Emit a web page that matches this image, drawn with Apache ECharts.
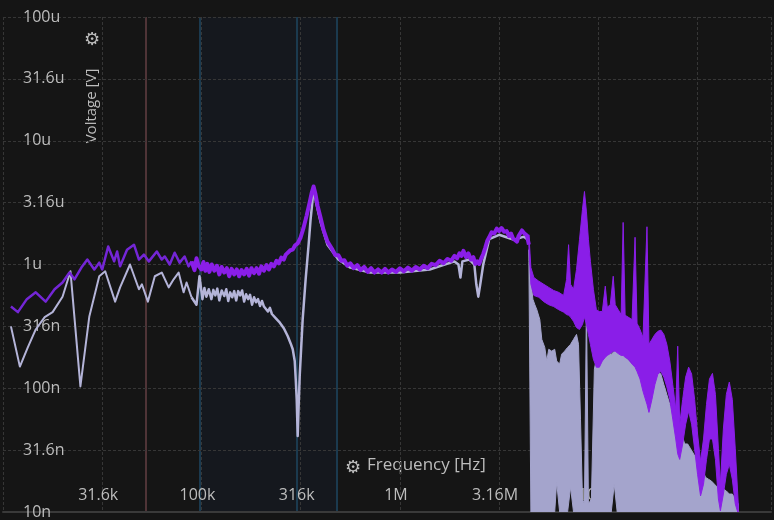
<!DOCTYPE html>
<html><head><meta charset="utf-8">
<script src="https://cdn.jsdelivr.net/npm/echarts@6/dist/echarts.min.js"></script>
<style>html,body{margin:0;padding:0;background:#151515;}#c{width:774px;height:520px;}</style>
</head><body><div id="c"></div>
<script>
// Frequencies are log10(Hz); voltages are dBV (20*log10(V)).
const yTickLabels = ['10n','31.6n','100n','316n','1u','3.16u','10u','31.6u','100u'];
const xTickLabels = ['','31.6k','100k','316k','1M','3.16M','10M',''];
const cursorRed = [4.725];
const cursorBlue = [4.99, 5.478, 5.685];
const cursorSpan = [4.99, 5.685];

const purpleLow = [[4.040,-126.8],[4.075,-127.7],[4.120,-125.6],[4.165,-124.5],[4.215,-126.0],[4.260,-124.0],[4.300,-122.9],[4.335,-121.3],[4.360,-122.4],[4.395,-120.5],[4.425,-119.2],[4.460,-120.8],[4.485,-119.7],[4.500,-120.8],[4.530,-117.1],[4.560,-119.5],[4.575,-117.9],[4.590,-120.3],[4.625,-117.6],[4.660,-116.8],[4.685,-119.2],[4.710,-118.4],[4.735,-119.5],[4.775,-117.9],[4.800,-119.2],[4.815,-118.7],[4.840,-120.0],[4.865,-118.1],[4.890,-119.7],[4.915,-118.7],[4.935,-120.3],[4.950,-119.5]];
const purpleMid = [[4.950,-119.5],[4.965,-120.9],[4.975,-119.0],[4.985,-120.2],[5.000,-120.8],[5.010,-119.6],[5.020,-121.0],[5.030,-119.9],[5.040,-121.2],[5.052,-120.0],[5.065,-121.0],[5.078,-120.2],[5.090,-121.6],[5.102,-120.4],[5.115,-121.3],[5.128,-120.6],[5.140,-121.9],[5.152,-120.7],[5.165,-121.6],[5.178,-120.8],[5.190,-121.9],[5.202,-120.9],[5.215,-121.6],[5.228,-120.7],[5.240,-121.8],[5.252,-120.6],[5.265,-121.4],[5.278,-120.6],[5.290,-121.5],[5.302,-120.3],[5.315,-121.0],[5.328,-120.1],[5.340,-120.8],[5.352,-119.9],[5.365,-120.3],[5.378,-119.4],[5.390,-119.8],[5.402,-118.9],[5.415,-119.2],[5.425,-118.4],[5.435,-118.6],[5.448,-117.7],[5.460,-117.6],[5.472,-116.9],[5.485,-116.6],[5.500,-115.6],[5.515,-114.0],[5.530,-112.1],[5.545,-110.0],[5.555,-108.5],[5.565,-107.4],[5.575,-108.7],[5.585,-110.5],[5.600,-112.4],[5.615,-114.4],[5.635,-116.3],[5.660,-117.6],[5.675,-118.5],[5.690,-118.5],[5.705,-119.4],[5.720,-119.3],[5.735,-120.2],[5.750,-119.8],[5.768,-120.6],[5.785,-120.1],[5.802,-120.9],[5.820,-120.4],[5.838,-121.2],[5.855,-120.6],[5.872,-121.3],[5.890,-120.8],[5.908,-121.3],[5.925,-120.7],[5.942,-121.3],[5.960,-120.8],[5.980,-121.2],[6.000,-120.6],[6.020,-121.1],[6.040,-120.5],[6.060,-121.0],[6.080,-120.4],[6.100,-120.8],[6.120,-120.2],[6.140,-120.6],[6.160,-119.9],[6.180,-120.1],[6.200,-119.4],[6.220,-119.8],[6.240,-119.1],[6.258,-119.4],[6.275,-118.6],[6.288,-119.0],[6.300,-118.2],[6.310,-118.6],[6.320,-117.8],[6.333,-118.8],[6.345,-118.2],[6.358,-119.2],[6.370,-118.8],[6.380,-119.9],[6.390,-119.5],[6.400,-119.9],[6.410,-119.0],[6.420,-118.3],[6.430,-117.3],[6.440,-116.2],[6.450,-115.6],[6.462,-114.8],[6.475,-115.0],[6.488,-114.2],[6.500,-114.6],[6.512,-114.1],[6.525,-114.7],[6.538,-114.6],[6.550,-115.4],[6.560,-115.0],[6.570,-115.8],[6.580,-115.6],[6.590,-116.3],[6.598,-115.4],[6.605,-115.1],[6.615,-114.5],[6.625,-114.9],[6.635,-114.6],[6.640,-115.3],[6.650,-116.8]];
const purpleBandF  = [6.650,6.660,6.675,6.700,6.725,6.750,6.775,6.800,6.825,6.840,6.850,6.860,6.875,6.890,6.905,6.920,6.930,6.940,6.950,6.960,6.975,6.990,7.005,7.020,7.035,7.045,7.060,7.075,7.085,7.100,7.115,7.125,7.135,7.150,7.170,7.185,7.195,7.210,7.225,7.245,7.255,7.270,7.285,7.300,7.315,7.330,7.345,7.360,7.375,7.390,7.400,7.410,7.425,7.440,7.455,7.470,7.485,7.500,7.515,7.530,7.545,7.560,7.575,7.590,7.605,7.615,7.630,7.645,7.660,7.675,7.690,7.705];
const purpleBandHi = [-115.2,-120.5,-122.1,-122.7,-123.2,-123.7,-124.2,-124.5,-125.0,-122.4,-116.8,-123.2,-124.0,-120.8,-116.0,-111.1,-108.2,-111.5,-116.0,-119.5,-124.0,-127.3,-127.6,-127.6,-123.5,-126.9,-126.5,-121.9,-126.5,-127.3,-128.1,-113.2,-128.2,-128.5,-128.9,-115.6,-129.5,-130.5,-131.8,-113.9,-132.9,-132.1,-131.3,-130.8,-130.6,-131.3,-132.9,-135.6,-139.4,-143.4,-133.2,-145.8,-141.8,-138.2,-136.6,-137.7,-141.8,-147.4,-151.8,-148.2,-142.6,-138.5,-137.6,-141.0,-149.8,-155.5,-146.6,-141.0,-139.0,-141.8,-149.8,-158.7];
const purpleBandLo = [-117.3,-123.2,-125.0,-125.3,-126.0,-126.5,-126.8,-127.3,-127.7,-128.1,-128.2,-128.5,-129.2,-130.2,-130.5,-129.7,-128.5,-129.7,-131.3,-132.9,-135.3,-136.6,-136.6,-135.6,-135.0,-134.7,-134.4,-134.0,-134.0,-134.4,-134.7,-134.7,-135.0,-135.3,-136.1,-136.6,-137.3,-138.5,-140.5,-142.6,-143.9,-141.8,-139.4,-137.7,-137.3,-138.2,-139.8,-141.8,-145.0,-148.2,-150.6,-151.5,-149.0,-145.8,-143.7,-145.8,-149.8,-153.9,-157.4,-155.5,-151.5,-148.2,-148.2,-151.5,-157.9,-159.8,-157.1,-153.9,-152.3,-154.7,-158.7,-160.3];

const lavenderLow = [[4.040,-130.0],[4.085,-136.5],[4.125,-133.4],[4.165,-130.5],[4.210,-128.5],[4.250,-127.7],[4.300,-125.2],[4.340,-121.1],[4.390,-139.7],[4.435,-128.4],[4.485,-121.9],[4.515,-121.1],[4.565,-126.0],[4.590,-123.7],[4.640,-120.0],[4.685,-124.0],[4.700,-123.2],[4.730,-126.0],[4.765,-121.9],[4.800,-121.3],[4.835,-123.7],[4.860,-122.4],[4.885,-121.3],[4.910,-124.5],[4.925,-122.9],[4.950,-125.3]];
const lavenderMid = [[4.950,-125.3],[4.975,-126.5],[4.990,-121.9],[5.005,-125.6],[5.015,-123.8],[5.025,-125.2],[5.037,-124.0],[5.050,-125.6],[5.060,-124.1],[5.070,-125.0],[5.080,-123.9],[5.090,-125.8],[5.102,-124.2],[5.115,-125.1],[5.125,-124.0],[5.135,-125.9],[5.145,-124.5],[5.155,-125.3],[5.165,-124.3],[5.175,-125.8],[5.185,-124.3],[5.195,-125.0],[5.205,-124.2],[5.215,-126.0],[5.225,-124.8],[5.235,-125.6],[5.245,-124.9],[5.255,-126.5],[5.265,-125.3],[5.275,-126.1],[5.285,-125.6],[5.295,-126.7],[5.305,-125.9],[5.315,-126.8],[5.325,-126.6],[5.335,-127.6],[5.345,-127.0],[5.355,-128.0],[5.365,-127.8],[5.375,-128.7],[5.385,-128.6],[5.395,-129.4],[5.405,-129.5],[5.415,-130.3],[5.425,-130.6],[5.435,-131.6],[5.443,-131.8],[5.450,-132.8],[5.460,-133.7],[5.470,-135.6],[5.475,-138.5],[5.480,-141.8],[5.485,-147.7],[5.490,-142.6],[5.495,-138.1],[5.510,-128.9],[5.525,-122.4],[5.540,-116.8],[5.550,-112.7],[5.560,-109.5],[5.565,-107.9],[5.580,-110.3],[5.600,-113.1],[5.635,-116.8],[5.690,-119.2],[5.750,-120.5],[5.850,-121.3],[6.000,-121.3],[6.150,-120.8],[6.275,-119.5],[6.295,-120.0],[6.305,-122.1],[6.315,-119.5],[6.350,-119.2],[6.375,-120.0],[6.385,-123.2],[6.395,-125.2],[6.405,-123.2],[6.420,-120.0],[6.450,-115.9],[6.500,-115.2],[6.575,-116.0],[6.625,-115.5],[6.645,-116.0]];
const lavenderBandF  = [6.650,6.660,6.670,6.680,6.690,6.705,6.715,6.730,6.740,6.750,6.765,6.780,6.790,6.805,6.815,6.830,6.845,6.860,6.875,6.890,6.900,6.910,6.920,6.930,6.940,6.950,6.965,6.980,6.990,7.005,7.020,7.035,7.050,7.065,7.080,7.095,7.110,7.125,7.140,7.155,7.170,7.185,7.200,7.215,7.230,7.240,7.250,7.265,7.280,7.300,7.315,7.330,7.345,7.360,7.375,7.390,7.405,7.420,7.435,7.450,7.465,7.480,7.495,7.510,7.525,7.540,7.555,7.570,7.585,7.600,7.615,7.630,7.645,7.660,7.675,7.690,7.705];
const lavenderBandHi = [-117.6,-122.4,-125.6,-126.5,-127.3,-128.9,-132.1,-133.4,-135.6,-133.7,-134.0,-133.7,-135.6,-136.1,-134.5,-134.0,-133.4,-132.9,-132.1,-131.3,-132.9,-145.0,-157.9,-158.7,-126.1,-158.7,-157.9,-136.9,-135.3,-136.1,-135.3,-134.5,-134.2,-134.5,-134.0,-133.7,-134.5,-134.5,-135.0,-135.6,-136.1,-136.6,-136.9,-138.5,-139.4,-140.2,-137.3,-136.6,-136.9,-137.3,-137.7,-139.4,-141.0,-142.6,-144.2,-145.8,-146.6,-147.4,-149.0,-149.0,-149.8,-150.6,-151.5,-152.3,-153.1,-154.4,-154.7,-155.0,-155.5,-156.0,-156.3,-156.3,-156.6,-157.1,-157.1,-157.9,-158.7];
const lavenderBandLo = [-119.5,-160,-160,-160,-160,-160,-160,-160,-160,-160,-160,-160,-155.2,-160,-160,-160,-160,-156.0,-160,-160,-160,-160,-160,-160,-160,-160,-160,-160,-160,-160,-160,-160,-160,-160,-155.5,-160,-160,-160,-160,-160,-160,-160,-160,-160,-160,-160,-160,-160,-160,-160,-160,-160,-160,-160,-160,-160,-160,-160,-160,-160,-160,-160,-160,-160,-160,-160,-160,-160,-160,-160,-160,-160,-160,-160,-160,-160,-160];

const PURPLE = '#8a1ee8';
const PURPLE_DIM = '#7426d6';
const LAV = '#a4a4cc';
const LAV_LINE = '#b4b4d8';
const TXT = '#bdbdbd';
const FONT = 'Open Sans';

function lineSeries(data, color, width) {
  return {type:'line', data, symbol:'none', showSymbol:false, clip:true,
    lineStyle:{color, width, join:'round'}, itemStyle:{color}, animation:false};
}
function bandSeries(f, hi, lo, color) {
  return {type:'custom', coordinateSystem:'cartesian2d', clip:true, animation:false,
    data: f.map((v,i)=>[v, hi[i], lo[i]]),
    encode:{x:0, y:[1,2]},
    renderItem: function(params, api) {
      if (params.dataIndex !== 0) return null;
      const pts = [];
      for (let i = 0; i < f.length; i++) pts.push(api.coord([f[i], hi[i]]));
      for (let i = f.length - 1; i >= 0; i--) pts.push(api.coord([f[i], lo[i]]));
      return {type:'polygon', shape:{points:pts}, style:{fill:color, stroke:color, lineWidth:1}};
    }
  };
}
function isTick(v, base, step) {
  const k = (v - base) / step;
  return Math.abs(k - Math.round(k)) < 1e-6 ? Math.round(k) : -1;
}

const chart = echarts.init(document.getElementById('c'));
chart.setOption({
  backgroundColor:'#151515',
  animation:false,
  grid:{left:0, right:0, top:17, bottom:7},
  xAxis:{type:'value', min:4, max:7.87, interval:0.5, z:1,
    axisLine:{show:true, lineStyle:{color:'#3a3a3a', width:2}},
    axisTick:{show:false},
    splitLine:{show:true, lineStyle:{color:'#363636', type:[3,2], width:1}},
    axisLabel:{inside:true, margin:9, color:TXT, fontSize:16, fontFamily:FONT, padding:[0,8,0,0],
      formatter: v => { const k = isTick(v, 4, 0.5); return k >= 0 && xTickLabels[k] ? xTickLabels[k] : ''; }}
  },
  yAxis:{type:'value', min:-160, max:-80, interval:10, z:1,
    axisLine:{show:false}, axisTick:{show:false},
    splitLine:{show:true, lineStyle:{color:'#363636', type:[3,2], width:1}},
    axisLabel:{inside:true, margin:20, color:TXT, fontSize:16, fontFamily:FONT,
      showMinLabel:true, showMaxLabel:true,
      formatter: v => { const k = isTick(v, -160, 10); return k >= 0 ? yTickLabels[k] : ''; }}
  },
  series:[
    {type:'line', data:[], symbol:'none', silent:true, z:0, zlevel:0,
      markArea:{silent:true, z:0, itemStyle:{color:'#15181e'}, data:[[{xAxis:cursorSpan[0]},{xAxis:cursorSpan[1]}]]},
      markLine:{silent:true, z:0, symbol:'none', label:{show:false}, animation:false,
        data: cursorRed.map(v=>({xAxis:v, lineStyle:{color:'#4f3437', width:2, type:'solid'}}))
          .concat(cursorBlue.map(v=>({xAxis:v, lineStyle:{color:'#1b3a4f', width:2, type:'solid'}})))}
    },
    lineSeries(lavenderLow, LAV_LINE, 2),
    lineSeries(lavenderMid, LAV_LINE, 2.5),
    bandSeries(lavenderBandF, lavenderBandHi, lavenderBandLo, LAV),
    lineSeries(purpleLow, PURPLE_DIM, 2.5),
    lineSeries(purpleMid, PURPLE, 4),
    bandSeries(purpleBandF, purpleBandHi, purpleBandLo, PURPLE)
  ],
  graphic:[
    {type:'text', x:353, y:468, style:{text:'\u2699', fill:TXT, font:'18px DejaVu Sans', align:'center', verticalAlign:'middle'}},
    {type:'text', left:367, top:457, style:{text:'Frequency [Hz]', fill:TXT, font:'17px "Open Sans"'}},
    {type:'text', x:92, y:106, rotation:Math.PI/2, style:{text:'Voltage [V]', fill:TXT, font:'15px "Open Sans"', align:'center', verticalAlign:'middle'}},
    {type:'text', x:92, y:40, style:{text:'\u2699', fill:TXT, font:'18px DejaVu Sans', align:'center', verticalAlign:'middle'}}
  ]
});
</script>
</body></html>
